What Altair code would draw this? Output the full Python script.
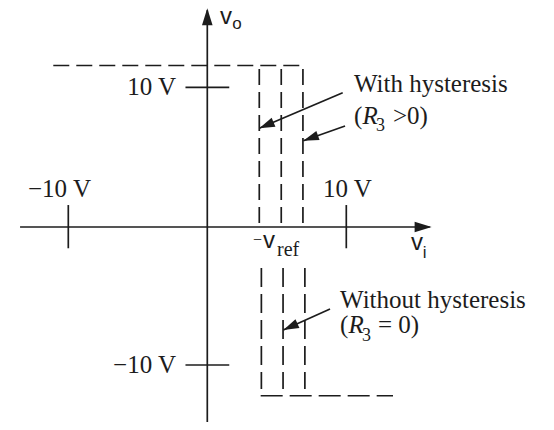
import altair as alt
import pandas as pd
import numpy as np

# ---- diagram data (volt-like units; both axes share the same unit size) ----
X_DOMAIN = [-14.338, 24.367]
Y_DOMAIN = [-14.029, 15.180]

# solid segments: axes, ticks, annotation arrow shafts
solid_x1 = [-13.47, 0.0, -10.0, 10.0, -1.57, -1.57, 9.74, 9.91, 8.83]
solid_y1 = [0.0, -14.6, 1.58, 1.58, 10.05, -9.93, 9.66, 7.27, -5.90]
solid_x2 = [16.0, 0.0, -10.0, 10.0, 1.58, 1.58, 3.74, 6.91, 5.47]
solid_y2 = [0.0, 15.6, -1.53, -1.53, 10.05, -9.93, 7.10, 6.21, -7.41]

# dashed segments: upper (output high) and lower (output low)
up_x1 = [-11.08, 3.74, 5.32, 6.88]
up_y1 = [11.62, 11.37, 11.37, 11.37]
up_x2 = [6.88, 3.74, 5.32, 6.88]
up_y2 = [11.62, 0.0, 0.0, 0.0]

lo_v_x = [3.89, 5.45, 7.02]
lo_v_top = [-2.95, -2.95, -2.95]
lo_v_bot = [-11.65, -11.65, -11.65]

lo_h_x1 = [3.84]
lo_h_x2 = [13.36]
lo_h_y = [-12.14]

# arrow heads on the axes: tip positions, pointing right / up
head_x = [16.14, 0.0]
head_y = [0.0, 15.73]
head_angle = [0.0, 270.0]
head_size = [289, 289]

# text pieces
serif_r_text = ["10 V", "\u221210 V"]
serif_r_x = [-2.25, -2.25]
serif_r_y = [9.50, -10.47]

serif_l_text = ["\u221210 V", "10 V", "With hysteresis", "(", ">0)",
                "Without hysteresis", "(", "= 0)"]
serif_l_x = [-12.90, 8.32, 10.55, 10.55, 13.36, 9.55, 9.55, 12.28]
serif_l_y = [2.16, 2.16, 9.68, 7.41, 7.41, -5.83, -7.66, -7.66]

minus_text = ["\u2212"]
minus_x = [3.29]
minus_y = [-1.29]

ital_text = ["R", "R"]
ital_x = [11.17, 10.16]
ital_y = [7.41, -7.66]

sub_text = ["3", "3"]
sub_x = [12.14, 11.13]
sub_y = [6.91, -8.17]

ref_text = ["ref"]
ref_x = [5.02]
ref_y = [-2.09]

sans_text = ["v", "v", "v"]
sans_x = [0.91, 14.65, 4.01]
sans_y = [14.60, -1.65, -1.51]

sans_sub_text = ["o", "i"]
sans_sub_x = [1.80, 15.50]
sans_sub_y = [14.24, -2.23]

# ---- build tables ----
solid = pd.DataFrame({"x": solid_x1, "y": solid_y1, "x2": solid_x2, "y2": solid_y2})
upper = pd.DataFrame({"x": up_x1, "y": up_y1, "x2": up_x2, "y2": up_y2})
lower_v = pd.DataFrame({"x": lo_v_x, "y": lo_v_top, "x2": lo_v_x, "y2": lo_v_bot})
lower_h = pd.DataFrame({"x": lo_h_x1, "y": lo_h_y, "x2": lo_h_x2, "y2": lo_h_y})

# annotation arrow heads sit at the shaft ends; angle from shaft direction
ann = solid.iloc[6:]
ang = np.degrees(np.arctan2(-(ann["y2"] - ann["y"]), ann["x2"] - ann["x"])) % 360
heads = pd.DataFrame({
    "x": head_x + list(ann["x2"]),
    "y": head_y + list(ann["y2"]),
    "angle": head_angle + list(ang),
    "size": head_size + [240, 240, 240],
})

xs = alt.Scale(domain=X_DOMAIN, nice=False, zero=False)
ys = alt.Scale(domain=Y_DOMAIN, nice=False, zero=False)
X = lambda f: alt.X(f, type="quantitative", scale=xs, axis=None)
Y = lambda f: alt.Y(f, type="quantitative", scale=ys, axis=None)

INK = "#1c1c1c"
SERIF = "Liberation Serif"
SANS = "Liberation Sans"

def rules(df, dash=None):
    kw = dict(color=INK, strokeWidth=1.7)
    if dash:
        kw["strokeDash"] = dash
    return alt.Chart(df).mark_rule(**kw).encode(
        x=X("x"), y=Y("y"), x2=alt.X2("x2"), y2=alt.Y2("y2"))

def texts(labels, xv, yv, **kw):
    df = pd.DataFrame({"t": labels, "x": xv, "y": yv})
    return alt.Chart(df).mark_text(color=INK, baseline="alphabetic", **kw).encode(
        x=X("x"), y=Y("y"), text="t:N")

arrowhead = "M0,0 L-2,-0.62 L-2,0.62 Z"

layers = [
    rules(solid),
    rules(upper, [16, 7]),
    rules(lower_v, [19, 7]),
    rules(lower_h, [22, 7]),
    alt.Chart(heads).mark_point(shape=arrowhead, filled=True, color=INK, opacity=1,
                                strokeWidth=0).encode(
        x=X("x"), y=Y("y"), angle=alt.Angle("angle:Q", scale=None),
        size=alt.Size("size:Q", scale=None)),
    texts(serif_r_text, serif_r_x, serif_r_y, align="right", font=SERIF, fontSize=25),
    texts(serif_l_text, serif_l_x, serif_l_y, align="left", font=SERIF, fontSize=25),
    texts(minus_text, minus_x, minus_y, align="left", font=SERIF, fontSize=16),
    texts(ital_text, ital_x, ital_y, align="left", font=SERIF, fontSize=25, fontStyle="italic"),
    texts(sub_text, sub_x, sub_y, align="left", font=SERIF, fontSize=18),
    texts(ref_text, ref_x, ref_y, align="left", font=SERIF, fontSize=20),
    texts(sans_text, sans_x, sans_y, align="left", font=SANS, fontSize=24),
    texts(sans_sub_text, sans_sub_x, sans_sub_y, align="left", font=SANS, fontSize=17),
]

chart = alt.layer(*layers).properties(
    width=538, height=406, padding={"top": 8, "left": 0, "right": 0, "bottom": 0},
    autosize="none", background="white"
).configure_view(strokeWidth=0)

chart.save("out.html", embed_options={"renderer": "svg", "actions": False})
